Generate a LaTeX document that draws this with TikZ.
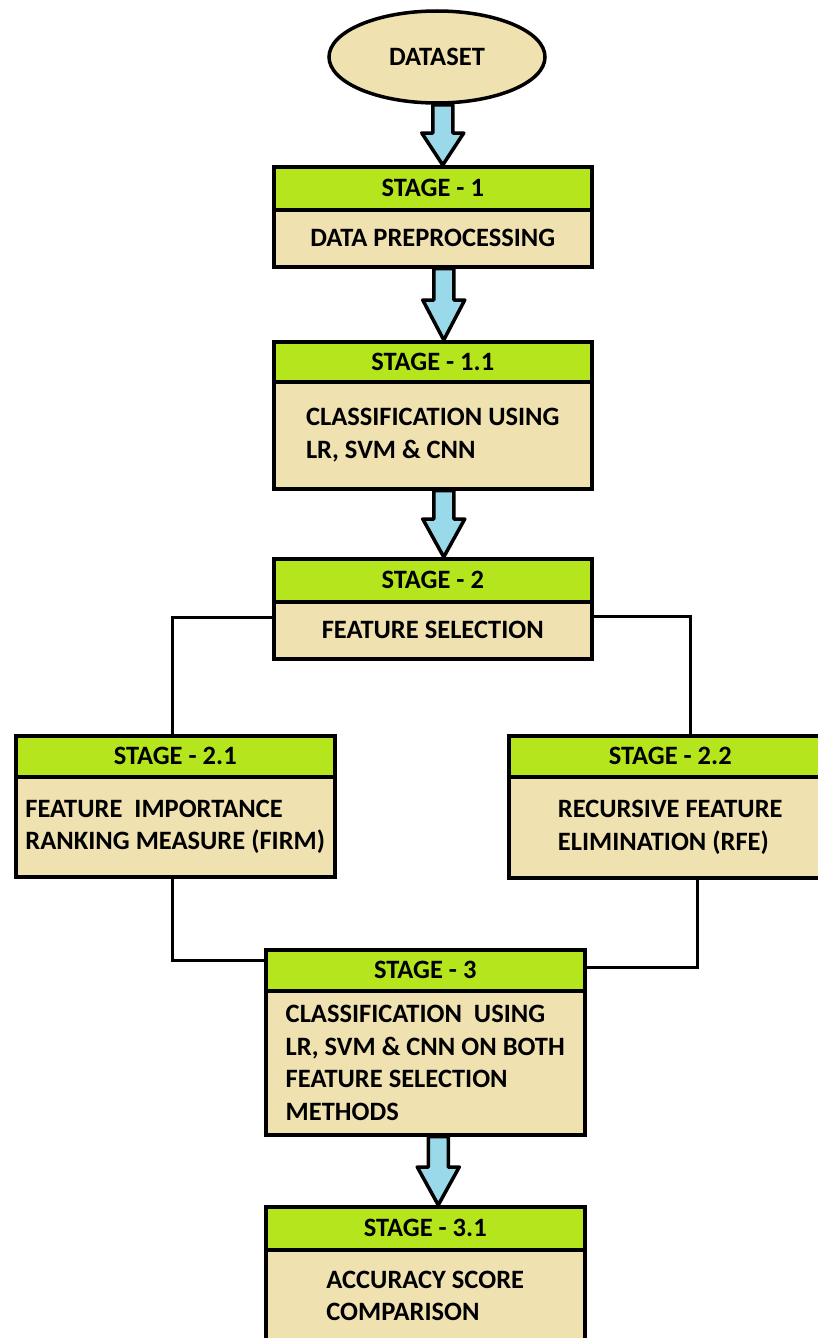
\documentclass[tikz,border=0pt]{standalone}
\usepackage{fontspec}
\setmainfont{Carlito}
\usetikzlibrary{shapes.geometric,calc}
\definecolor{hdrgreen}{HTML}{B5E61D}
\definecolor{bodybeige}{HTML}{EFE2B0}
\definecolor{arrowblue}{HTML}{99D9EA}
\newcommand{\blkarrow}[3]{%
  \draw[barrow] ($(#1)+(-10,0)$) -- ($(#2)+(-10,-#3)$) -- ($(#2)+(-21,-#3)$) -- (#2)
    -- ($(#2)+(21,-#3)$) -- ($(#2)+(10,-#3)$) -- ($(#1)+(10,0)$) -- cycle;}
\begin{document}
\begin{tikzpicture}[x=1pt,y=-1pt,
  hdr/.style={draw=black, line width=3.5pt, fill=hdrgreen, rectangle, anchor=north west,
    font=\fontsize{26.5}{30}\selectfont\bfseries, inner sep=0pt},
  bodybox/.style={draw=black, line width=3.5pt, fill=bodybeige, rectangle, anchor=north west,
    font=\fontsize{26.5}{32.5}\selectfont\bfseries, align=left, inner sep=0pt},
  conn/.style={draw=black, line width=3pt},
  barrow/.style={draw=black, line width=3.5pt, fill=arrowblue, line join=round}]
\useasboundingbox (0,0) rectangle (818,1338);
\fill[white] (0,0) rectangle (818,1338);

% Dataset
\node[ellipse, draw=black, line width=3.5pt, fill=bodybeige, minimum width=216, minimum height=92,
  font=\fontsize{26.5}{30}\selectfont\bfseries, inner sep=0pt] (ds) at (437,57) {DATASET};

% Stage 1
\node[hdr, minimum width=318, minimum height=43] (s1h) at (272,165) {STAGE - 1};
\node[bodybox, minimum width=318, minimum height=57] (s1b) at (272,208) {DATA PREPROCESSING};

% Stage 1.1
\node[hdr, minimum width=318, minimum height=40] (s11h) at (272,340) {STAGE - 1.1};
\node[bodybox, minimum width=318, minimum height=107] (s11b) at (272,380) {CLASSIFICATION USING\\LR, SVM \& CNN};

% Stage 2
\node[hdr, minimum width=318, minimum height=43] (s2h) at (272,557) {STAGE - 2};
\node[bodybox, minimum width=318, minimum height=57] (s2b) at (272,600) {FEATURE SELECTION};

% Stage 2.1
\node[hdr, minimum width=319, minimum height=41] (s21h) at (14,734) {STAGE - 2.1};
\node[bodybox, minimum width=319, minimum height=100] (s21b) at (14,775) {FEATURE~~IMPORTANCE\\RANKING MEASURE (FIRM)};

% Stage 2.2
\node[hdr, minimum width=323, minimum height=41] (s22h) at (507,734) {STAGE - 2.2};
\node[bodybox, minimum width=323, minimum height=101] (s22b) at (507,775) {RECURSIVE FEATURE\\ELIMINATION (RFE)};

% Stage 3
\node[hdr, minimum width=319, minimum height=41] (s3h) at (264,948) {STAGE - 3};
\node[bodybox, minimum width=319, minimum height=144] (s3b) at (264,989) {CLASSIFICATION~~USING\\LR, SVM \& CNN ON BOTH\\FEATURE SELECTION\\METHODS};

% Stage 3.1
\node[hdr, minimum width=319, minimum height=43] (s31h) at (264,1205) {STAGE - 3.1};
\node[bodybox, minimum width=319, minimum height=92] (s31b) at (264,1248) {ACCURACY SCORE\\COMPARISON};

% block arrows
\coordinate (a1s) at ($(ds.south)+(4,0)$);
\coordinate (a1e) at ($(s1h.north)+(10,0)$);
\coordinate (a1s') at (a1s -| a1e);
\blkarrow{a1s'}{a1e}{32}
\coordinate (a2s) at ($(s1b.south)+(11,0)$);
\coordinate (a2e) at ($(s11h.north)+(11,0)$);
\blkarrow{a2s}{a2e}{40}
\coordinate (a3s) at ($(s11b.south)+(11,0)$);
\coordinate (a3e) at ($(s2h.north)+(11,0)$);
\blkarrow{a3s}{a3e}{38}
\coordinate (a4s) at ($(s3b.south)+(13,0)$);
\coordinate (a4e) at ($(s31h.north)+(13,0)$);
\blkarrow{a4s}{a4e}{38}

% connectors
\coordinate (c2l) at ($(s2b.north west)+(0,17)$);
\coordinate (c21t) at ($(s21h.north west)+(158,0)$);
\draw[conn] (c2l) -| (c21t);
\coordinate (c2r) at ($(s2b.north east)+(0,16)$);
\coordinate (c22t) at ($(s22h.north west)+(183,0)$);
\draw[conn] (c2r) -| (c22t);
\coordinate (c21b) at ($(s21b.south west)+(158,0)$);
\coordinate (c3l) at ($(s3h.north west)+(0,12)$);
\draw[conn] (c21b) |- (c3l);
\coordinate (c22b) at ($(s22b.south west)+(190,0)$);
\coordinate (c3r) at ($(s3h.north east)+(0,19)$);
\draw[conn] (c22b) |- (c3r);
\end{tikzpicture}
\end{document}
